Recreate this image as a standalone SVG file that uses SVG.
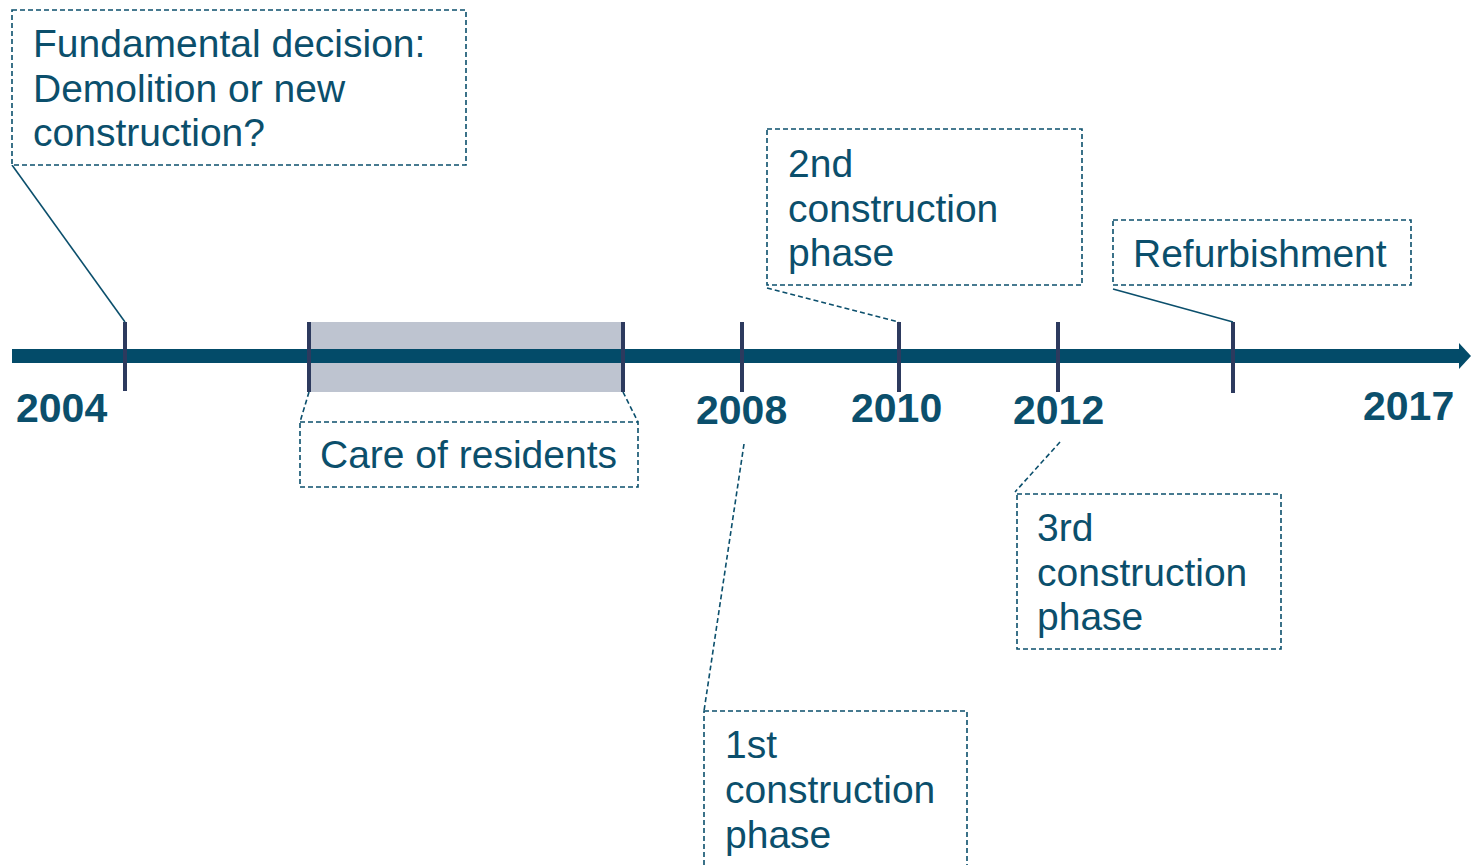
<svg xmlns="http://www.w3.org/2000/svg" width="1471" height="865" viewBox="0 0 1471 865">
<style>
.box{fill:#fff;stroke:#0b4f6c;stroke-width:1.6;stroke-dasharray:5 3}
.t{font-family:"Liberation Sans",Arial,sans-serif;font-size:39px;fill:#0b4f6c}
.yr{font-family:"Liberation Sans",Arial,sans-serif;font-size:41px;font-weight:bold;fill:#0b4f6c}
.tick{stroke:#2d3a5e;stroke-width:4}
.cs{stroke:#0b4f6c;stroke-width:1.6;fill:none}
.cd{stroke:#0b4f6c;stroke-width:1.6;fill:none;stroke-dasharray:5 3}
</style>
<rect width="1471" height="865" fill="#fff"/>
<g id="timeline">
<rect x="309" y="322" width="314" height="70" fill="#bec4d0"/>
<rect x="12" y="349" width="1450" height="14" fill="#034b69"/>
<polygon points="1459,343 1471,356 1459,369" fill="#034b69"/>
<line class="tick" x1="125" y1="322" x2="125" y2="391"/>
<line class="tick" x1="309" y1="322" x2="309" y2="392"/>
<line class="tick" x1="623" y1="322" x2="623" y2="392"/>
<line class="tick" x1="742" y1="322" x2="742" y2="392"/>
<line class="tick" x1="899" y1="322" x2="899" y2="392"/>
<line class="tick" x1="1058" y1="322" x2="1058" y2="392"/>
<line class="tick" x1="1233" y1="322" x2="1233" y2="393"/>
<text class="yr" x="16" y="422">2004</text>
<text class="yr" x="696" y="424">2008</text>
<text class="yr" x="851" y="422">2010</text>
<text class="yr" x="1013" y="424">2012</text>
<text class="yr" x="1363" y="420">2017</text>
</g>
<g id="connectors">
<line class="cs" x1="12" y1="165" x2="125" y2="322"/>
<line class="cd" x1="309" y1="392" x2="300" y2="422"/>
<line class="cd" x1="623" y1="392" x2="638" y2="422"/>
<line class="cd" x1="744" y1="444" x2="704" y2="711"/>
<line class="cd" x1="767" y1="288" x2="899" y2="322"/>
<line class="cs" x1="1113" y1="289" x2="1233" y2="322"/>
<line class="cd" x1="1060" y1="442" x2="1015" y2="492"/>
</g>
<g id="n-decision">
<rect class="box" x="12" y="10" width="454" height="155"/>
<text class="t" x="33" y="57">Fundamental decision:</text>
<text class="t" x="33" y="102">Demolition or new</text>
<text class="t" x="33" y="146">construction?</text>
</g>
<g id="n-care">
<rect class="box" x="300" y="422" width="338" height="65"/>
<text class="t" x="320" y="468">Care of residents</text>
</g>
<g id="n-phase1">
<rect class="box" x="704" y="711" width="263" height="170"/>
<text class="t" x="725" y="758">1st</text>
<text class="t" x="725" y="803">construction</text>
<text class="t" x="725" y="848">phase</text>
</g>
<g id="n-phase2">
<rect class="box" x="767" y="129" width="315" height="156"/>
<text class="t" x="788" y="177">2nd</text>
<text class="t" x="788" y="222">construction</text>
<text class="t" x="788" y="266">phase</text>
</g>
<g id="n-refurb">
<rect class="box" x="1113" y="220" width="298" height="65"/>
<text class="t" x="1133" y="267">Refurbishment</text>
</g>
<g id="n-phase3">
<rect class="box" x="1017" y="494" width="264" height="155"/>
<text class="t" x="1037" y="541">3rd</text>
<text class="t" x="1037" y="586">construction</text>
<text class="t" x="1037" y="630">phase</text>
</g>
</svg>
